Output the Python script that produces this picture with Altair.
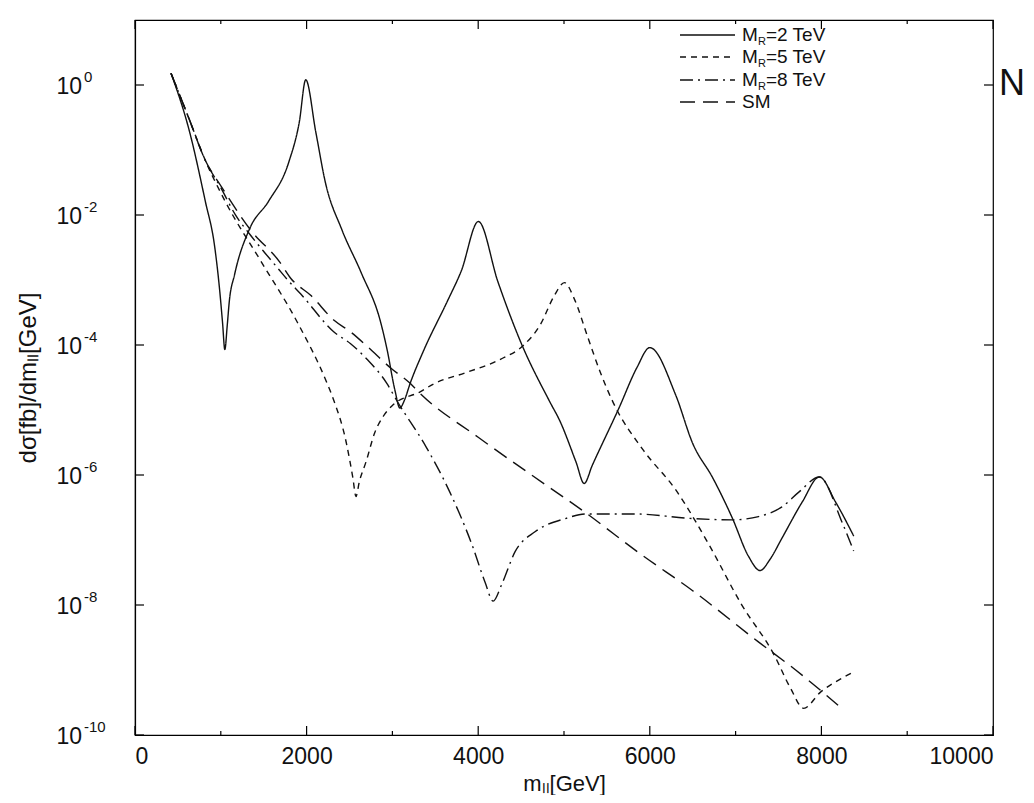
import altair as alt
import pandas as pd

# ---------------- data (x in GeV, log10 of dsigma/dm) ----------------
x_mr2 = [420, 632, 818, 930, 984, 1020, 1047, 1075, 1099, 1160, 1340, 1556, 1794, 1915, 1990,
         2108, 2219, 2409, 2637, 2865, 2938, 3030, 3087, 3140, 3207, 3366, 3643, 3803, 4002,
         4228, 4494, 4837, 4949, 5140, 5235, 5330, 5644, 5849, 6000, 6299, 6502, 6732, 6961,
         7150, 7285, 7400, 7541, 7779, 7976, 8167, 8377]
l_mr2 = [0.18, -0.70, -1.78, -2.50, -3.12, -3.65, -4.07, -3.70, -3.33, -2.92, -2.20, -1.79, -1.18, -0.57, 0.08,
         -0.73, -1.50, -2.22, -2.89, -3.66, -4.07, -4.70, -4.97, -4.85, -4.59, -4.08, -3.32, -2.86, -2.10,
         -3.02, -3.95, -4.88, -5.16, -5.80, -6.13, -5.85, -4.96, -4.35, -4.04, -4.76, -5.52, -6.04, -6.66,
         -7.25, -7.47, -7.30, -6.97, -6.41, -6.03, -6.42, -6.94]

x_mr5 = [420, 630, 823, 1051, 1472, 1892, 2236, 2311, 2462, 2540, 2575, 2615, 2692, 2794, 2892,
         3000, 3323, 3479, 3868, 4259, 4532, 4723, 4887, 5005, 5120, 5272, 5423, 5575, 5920,
         6303, 6685, 7068, 7450, 7640, 7793, 7990, 8220, 8360]
l_mr5 = [0.18, -0.52, -1.17, -1.79, -2.72, -3.65, -4.58, -4.83, -5.50, -6.05, -6.33, -6.10, -5.80, -5.35, -5.10,
         -4.93, -4.72, -4.60, -4.42, -4.22, -4.00, -3.69, -3.24, -3.04, -3.29, -3.86, -4.42, -4.89, -5.61,
         -6.23, -7.06, -7.99, -8.77, -9.28, -9.59, -9.34, -9.14, -9.04]

x_mr8 = [420, 630, 823, 1000, 1167, 1358, 1512, 1665, 1780, 1935, 2319, 2513, 2704, 2935, 3049,
         3394, 3661, 3927, 4080, 4174, 4272, 4430, 4666, 5017, 5250, 5833, 6494, 6960, 7267,
         7540, 7740, 7976, 8242, 8376]
l_mr8 = [0.18, -0.52, -1.17, -1.58, -1.99, -2.33, -2.58, -2.82, -3.00, -3.22, -3.80, -3.98, -4.22, -4.59, -4.85,
         -5.57, -6.24, -7.07, -7.65, -7.94, -7.69, -7.18, -6.87, -6.67, -6.60, -6.60, -6.67, -6.69, -6.64,
         -6.49, -6.26, -6.03, -6.73, -7.17]

x_sm = [420, 630, 823, 1000, 1359, 1685, 1819, 2051, 2320, 2514, 2706, 2976, 3207, 3303, 4000,
        4600, 5251, 5907, 6500, 7258, 7700, 8202]
l_sm = [0.18, -0.52, -1.17, -1.55, -2.25, -2.72, -2.98, -3.24, -3.62, -3.80, -4.02, -4.35, -4.59, -4.72, -5.42,
        -5.98, -6.58, -7.23, -7.78, -8.56, -9.00, -9.55]

series_names = ["M_R=2 TeV", "M_R=5 TeV", "M_R=8 TeV", "SM"]
legend_main = ["M", "M", "M", "SM"]
legend_sub = ["R", "R", "R", ""]
legend_rest = ["=2 TeV", "=5 TeV", "=8 TeV", ""]

x_major = [0, 2000, 4000, 6000, 8000, 10000]
x_minor = [1000, 3000, 5000, 7000, 9000]
y_major = [1e-10, 1e-8, 1e-6, 1e-4, 1e-2, 1]
y_exponents = ["-10", "-8", "-6", "-4", "-2", "0"]

# ---------------- build table ----------------
rows = []
for name, xs, ls in [(series_names[0], x_mr2, l_mr2), (series_names[1], x_mr5, l_mr5),
                     (series_names[2], x_mr8, l_mr8), (series_names[3], x_sm, l_sm)]:
    for i, (xv, lv) in enumerate(zip(xs, ls)):
        rows.append({"series": name, "m": xv, "y": 10 ** lv, "i": i})
df = pd.DataFrame(rows)

# ---------------- styling ----------------
W, H = 858, 715
FONT = "Liberation Sans"
INK = "#111111"
dashes = [[1, 0], [6, 5], [13, 5, 2, 5], [15, 8]]

xscale = alt.Scale(domain=[0, 10000], nice=False, zero=False)
yscale = alt.Scale(type="log", domain=[1e-10, 10], nice=False)

x_axis = alt.Axis(values=x_major, format="d", ticks=False, tickSize=0, grid=False,
                  domainColor="black", domainWidth=1.2,
                  labelFont=FONT, labelFontSize=23, labelColor=INK, labelPadding=10,
                  title="mₗₗ[GeV]", titleFont=FONT, titleFontSize=22,
                  titleFontWeight="normal", titleColor=INK, titlePadding=5)
y_axis = alt.Axis(values=y_major, labels=False, ticks=False, tickSize=0, grid=False,
                  domainColor="black", domainWidth=1.2,
                  title="dσ[fb]/dmₗₗ[GeV]", titleFont=FONT, titleFontSize=24,
                  titleFontWeight="normal", titleColor=INK, titlePadding=95)

lines = alt.Chart(df).mark_line(color=INK, strokeWidth=1.4, interpolate="monotone").encode(
    x=alt.X("m:Q", scale=xscale, axis=x_axis),
    y=alt.Y("y:Q", scale=yscale, axis=y_axis),
    strokeDash=alt.StrokeDash("series:N", scale=alt.Scale(domain=series_names, range=dashes), legend=None),
    detail="series:N",
    order="i:Q",
)


def xticks(vals, length, top):
    d = pd.DataFrame({"m": vals})
    y0, y1 = (0, length) if top else (H, H - length)
    return alt.Chart(d).mark_rule(color="black", strokeWidth=1.2).encode(
        x=alt.X("m:Q", scale=xscale, axis=x_axis), y=alt.value(y0), y2=alt.value(y1))


def yticks(vals, length, right):
    d = pd.DataFrame({"y": vals})
    x0, x1 = (W, W - length) if right else (0, length)
    return alt.Chart(d).mark_rule(color="black", strokeWidth=1.2).encode(
        y=alt.Y("y:Q", scale=yscale, axis=y_axis), x=alt.value(x0), x2=alt.value(x1))


tick_layers = [xticks(x_major, 9, False), xticks(x_minor, 4, False),
               xticks(x_major, 9, True), xticks(x_minor, 4, True),
               yticks(y_major, 9, False), yticks(y_major, 9, True)]

# y tick labels: "10" with a raised exponent
ylab_df = pd.DataFrame({"y": y_major, "e": y_exponents})
ylab_base = alt.Chart(ylab_df)
ylab_ten = ylab_base.mark_text(align="right", baseline="middle", font=FONT, fontSize=23,
                               color=INK, dy=2).encode(
    y=alt.Y("y:Q", scale=yscale, axis=y_axis), x=alt.value(-53), text=alt.value("10"))
ylab_exp = ylab_base.mark_text(align="left", baseline="middle", font=FONT, fontSize=15,
                               color=INK, dy=-8).encode(
    y=alt.Y("y:Q", scale=yscale, axis=y_axis), x=alt.value(-51), text="e:N")

# ---------------- hand-placed legend (top right, inside the frame) ----------------
leg_df = pd.DataFrame({"series": series_names})
row_y = [15, 37, 60, 82]
leg_layers = []
for k, name in enumerate(series_names):
    base = alt.Chart(leg_df).transform_filter(alt.datum.series == name)
    leg_layers.append(base.mark_rule(color=INK, strokeWidth=1.4, strokeDash=dashes[k]).encode(
        x=alt.value(545), x2=alt.value(600), y=alt.value(row_y[k])))
    leg_layers.append(base.mark_text(align="left", baseline="middle", font=FONT, fontSize=19,
                                     color=INK).encode(
        x=alt.value(607), y=alt.value(row_y[k]), text=alt.value(legend_main[k])))
    if legend_sub[k]:
        leg_layers.append(base.mark_text(align="left", baseline="middle", font=FONT, fontSize=11,
                                         color=INK).encode(
            x=alt.value(623), y=alt.value(row_y[k] + 7), text=alt.value(legend_sub[k])))
        leg_layers.append(base.mark_text(align="left", baseline="middle", font=FONT, fontSize=19,
                                         color=INK).encode(
            x=alt.value(631), y=alt.value(row_y[k]), text=alt.value(legend_rest[k])))

# stray glyph at the right edge of the scanned page
stray = alt.Chart(leg_df).transform_filter(alt.datum.series == "SM").mark_text(
    align="left", baseline="middle", font=FONT, fontSize=36, color=INK, fontWeight=100).encode(
    x=alt.value(W + 6), y=alt.value(64), text=alt.value("N"))

chart = alt.layer(lines, *tick_layers, ylab_ten, ylab_exp, *leg_layers, stray).properties(
    width=W, height=H,
    autosize=alt.AutoSizeParams(type="none"),
    padding={"left": 127, "top": 12, "right": 33, "bottom": 60},
    background="white",
).configure_view(stroke="black", strokeWidth=1.2)

chart.save("out.html", embed_options={"renderer": "svg", "actions": False})
